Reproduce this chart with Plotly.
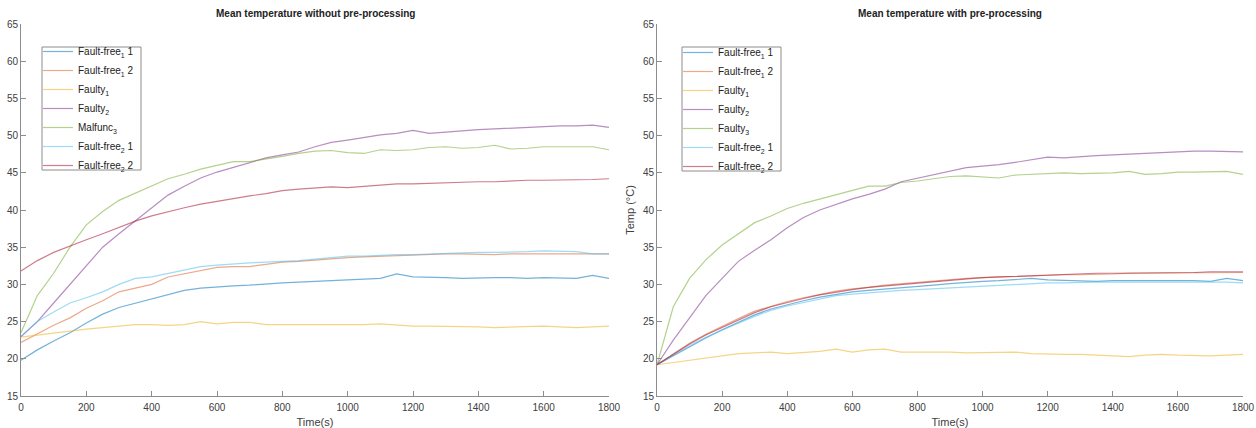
import plotly.graph_objects as go

# ---------------- data ----------------
time_s = [0, 50, 100, 150, 200, 250, 300, 350, 400, 450, 500, 550, 600, 650, 700, 750, 800, 850, 900,
          950, 1000, 1050, 1100, 1150, 1200, 1250, 1300, 1350, 1400, 1450, 1500, 1550, 1600, 1650,
          1700, 1750, 1800]

# Left: without pre-processing
raw_ff1_1 = [19.8, 21.2, 22.4, 23.5, 24.8, 26.0, 26.9, 27.5, 28.1, 28.6, 29.2, 29.5, 29.6, 29.8, 29.9,
             30.1, 30.2, 30.3, 30.4, 30.6, 30.7, 30.7, 30.8, 31.4, 31.0, 31.0, 30.9, 30.8, 30.9, 30.9,
             30.9, 30.8, 30.9, 30.8, 30.8, 31.2, 30.8]
raw_ff1_2 = [22.2, 23.4, 24.5, 25.5, 26.8, 27.8, 29.0, 29.5, 30.0, 31.0, 31.4, 31.8, 32.3, 32.4, 32.4,
             32.7, 33.0, 33.1, 33.3, 33.5, 33.6, 33.7, 33.8, 33.9, 34.0, 34.0, 34.1, 34.1, 34.0, 34.0,
             34.1, 34.1, 34.0, 34.0, 34.1, 34.1, 34.1]
raw_faulty1 = [22.9, 23.2, 23.4, 23.7, 24.0, 24.2, 24.4, 24.6, 24.6, 24.5, 24.6, 25.0, 24.7, 24.9, 24.9,
               24.6, 24.6, 24.6, 24.5, 24.6, 24.6, 24.6, 24.7, 24.5, 24.4, 24.4, 24.4, 24.3, 24.3, 24.2,
               24.3, 24.4, 24.4, 24.3, 24.2, 24.3, 24.4]
raw_faulty2 = [23.0, 25.0, 27.5, 30.0, 32.5, 35.0, 36.8, 38.5, 40.3, 42.0, 43.2, 44.3, 45.1, 45.7, 46.3,
               47.0, 47.4, 47.8, 48.5, 49.1, 49.4, 49.8, 50.1, 50.3, 50.7, 50.3, 50.5, 50.7, 50.8, 50.9,
               51.0, 51.2, 51.2, 51.3, 51.3, 51.4, 51.1]
raw_malfunc3 = [23.5, 28.5, 31.5, 35.0, 38.0, 39.8, 41.3, 42.3, 43.3, 44.2, 44.8, 45.5, 46.0, 46.5, 46.5,
                46.8, 47.2, 47.6, 47.9, 48.0, 47.7, 47.6, 48.1, 48.0, 48.1, 48.4, 48.5, 48.3, 48.4, 48.7,
                48.2, 48.3, 48.5, 48.5, 48.5, 48.5, 48.1]
raw_ff2_1 = [23.0, 25.0, 26.3, 27.5, 28.2, 29.0, 30.0, 30.8, 31.0, 31.5, 32.0, 32.4, 32.6, 32.8, 32.9,
             33.0, 33.1, 33.2, 33.4, 33.6, 33.8, 33.8, 33.9, 34.0, 34.0, 34.1, 34.2, 34.3, 34.3, 34.3,
             34.4, 34.4, 34.5, 34.5, 34.4, 34.1, 34.1]
raw_ff2_2 = [31.8, 33.2, 34.3, 35.2, 36.0, 36.8, 37.7, 38.5, 39.2, 39.8, 40.3, 40.8, 41.2, 41.6, 41.9,
             42.2, 42.6, 42.8, 43.0, 43.1, 43.0, 43.2, 43.4, 43.5, 43.5, 43.6, 43.6, 43.7, 43.8, 43.8,
             43.9, 44.0, 44.0, 44.0, 44.0, 44.1, 44.2]

# Right: with pre-processing
pre_ff1_1 = [19.2, 20.4, 21.7, 22.8, 23.9, 24.9, 25.9, 26.7, 27.3, 27.8, 28.3, 28.7, 29.0, 29.2, 29.4,
             29.6, 29.7, 29.9, 30.1, 30.3, 30.4, 30.5, 30.6, 30.8, 30.6, 30.5, 30.5, 30.4, 30.5, 30.5,
             30.5, 30.6, 30.6, 30.5, 30.4, 30.8, 30.5]
pre_ff1_2 = [19.2, 20.7, 22.1, 23.3, 24.4, 25.4, 26.4, 27.1, 27.7, 28.2, 28.7, 29.1, 29.4, 29.6, 29.9,
             30.1, 30.3, 30.5, 30.6, 30.8, 30.9, 31.0, 31.1, 31.1, 31.2, 31.3, 31.3, 31.4, 31.4, 31.5,
             31.5, 31.5, 31.5, 31.6, 31.6, 31.6, 31.6]
pre_faulty1 = [19.2, 19.5, 19.8, 20.2, 20.5, 20.7, 20.8, 20.9, 20.7, 20.8, 21.0, 21.3, 20.9, 21.2, 21.3,
               20.9, 20.9, 21.0, 20.9, 20.8, 20.8, 20.9, 20.9, 20.7, 20.6, 20.6, 20.6, 20.5, 20.5, 20.3,
               20.5, 20.6, 20.5, 20.4, 20.4, 20.5, 20.6]
pre_faulty2 = [19.2, 22.5, 25.5, 28.5, 30.8, 33.1, 34.6, 36.0, 37.6, 39.0, 40.0, 40.8, 41.5, 42.1, 42.8,
               43.8, 44.3, 44.8, 45.3, 45.7, 45.9, 46.1, 46.4, 46.7, 47.1, 47.0, 47.1, 47.3, 47.4, 47.5,
               47.6, 47.8, 47.8, 47.9, 47.9, 47.9, 47.8]
pre_faulty3 = [19.2, 27.0, 30.8, 33.3, 35.3, 36.8, 38.3, 39.2, 40.2, 40.9, 41.5, 42.0, 42.6, 43.2, 43.2,
               43.7, 43.9, 44.2, 44.5, 44.6, 44.4, 44.3, 44.7, 44.8, 44.9, 45.0, 44.9, 44.9, 45.0, 45.2,
               44.8, 44.9, 45.1, 45.1, 45.2, 45.2, 44.8]
pre_ff2_1 = [19.2, 20.5, 21.8, 22.9, 23.9, 24.8, 25.7, 26.5, 27.1, 27.6, 28.1, 28.5, 28.7, 28.9, 29.0,
             29.2, 29.3, 29.4, 29.5, 29.7, 29.8, 29.9, 30.0, 30.1, 30.2, 30.2, 30.3, 30.3, 30.3, 30.3,
             30.3, 30.3, 30.4, 30.3, 30.3, 30.3, 30.2]
pre_ff2_2 = [19.2, 20.6, 22.0, 23.2, 24.2, 25.2, 26.2, 27.0, 27.6, 28.1, 28.6, 29.0, 29.3, 29.6, 29.8,
             30.0, 30.2, 30.4, 30.6, 30.8, 30.9, 31.0, 31.1, 31.2, 31.3, 31.3, 31.4, 31.5, 31.5, 31.5,
             31.5, 31.6, 31.6, 31.6, 31.7, 31.7, 31.7]

left_names = ["Fault-free<sub>1</sub> 1", "Fault-free<sub>1</sub> 2", "Faulty<sub>1</sub>",
              "Faulty<sub>2</sub>", "Malfunc<sub>3</sub>", "Fault-free<sub>2</sub> 1",
              "Fault-free<sub>2</sub> 2"]
right_names = ["Fault-free<sub>1</sub> 1", "Fault-free<sub>1</sub> 2", "Faulty<sub>1</sub>",
               "Faulty<sub>2</sub>", "Faulty<sub>3</sub>", "Fault-free<sub>2</sub> 1",
               "Fault-free<sub>2</sub> 2"]
left_series = [raw_ff1_1, raw_ff1_2, raw_faulty1, raw_faulty2, raw_malfunc3, raw_ff2_1, raw_ff2_2]
right_series = [pre_ff1_1, pre_ff1_2, pre_faulty1, pre_faulty2, pre_faulty3, pre_ff2_1, pre_ff2_2]

x_ticks = [0, 200, 400, 600, 800, 1000, 1200, 1400, 1600, 1800]
y_ticks = [15, 20, 25, 30, 35, 40, 45, 50, 55, 60, 65]

# ---------------- styling ----------------
colors = ["rgba(0,114,189,0.55)", "rgba(217,83,25,0.5)", "rgba(237,177,32,0.55)",
          "rgba(126,47,142,0.55)", "rgba(119,172,48,0.55)", "rgba(77,190,238,0.55)",
          "rgba(162,20,47,0.55)"]
FONT = "Liberation Sans, Arial, sans-serif"
W, H = 1256, 428
ML, MR, MT, MB = 0, 0, 24, 32
PH = H - MT - MB


def px_x(px):
    return px / (W - ML - MR)


def px_y(py):
    return 1 - (py - MT) / PH


fig = go.Figure()
for i, (nm, ys) in enumerate(zip(left_names, left_series)):
    fig.add_trace(go.Scatter(x=time_s, y=ys, name=nm, mode="lines",
                             line=dict(color=colors[i], width=1.2),
                             xaxis="x", yaxis="y", legend="legend"))
for i, (nm, ys) in enumerate(zip(right_names, right_series)):
    fig.add_trace(go.Scatter(x=time_s, y=ys, name=nm, mode="lines",
                             line=dict(color=colors[i], width=1.2),
                             xaxis="x2", yaxis="y2", legend="legend2"))

axis_common = dict(showgrid=False, zeroline=False, showline=True, linecolor="#8c8c8c",
                   linewidth=1, ticks="inside", ticklen=5, tickcolor="#8c8c8c", automargin=False,
                   tickfont=dict(family=FONT, size=10, color="#404040"), mirror=False)

title_font = dict(family=FONT, size=11, color="#404040")
legend_common = dict(xanchor="left", yanchor="top", bgcolor="rgba(0,0,0,0)",
                     borderwidth=0, font=dict(family=FONT, size=10, color="#222222"),
                     itemwidth=30, tracegroupgap=0)

# legend frames (white boxes with grey border, drawn under the legend text)
legend_boxes = [(42, 47, 141, 170), (682, 47, 781, 171)]
shapes = [dict(type="rect", xref="paper", yref="paper", layer="above",
               x0=px_x(a), y0=px_y(d), x1=px_x(c), y1=px_y(b),
               fillcolor="white", line=dict(color="#8c8c8c", width=1))
          for (a, b, c, d) in legend_boxes]

fig.update_layout(
    width=W, height=H,
    margin=dict(l=ML, r=MR, t=MT, b=MB, autoexpand=False),
    paper_bgcolor="white", plot_bgcolor="white",
    xaxis=dict(domain=[px_x(21), px_x(609)], range=[0, 1800], tickvals=x_ticks,
               ticklabelstandoff=2,
               title=dict(text="Time(s)", font=title_font, standoff=6),
               anchor="y", **axis_common),
    yaxis=dict(domain=[0, 1], range=[15, 65], tickvals=y_ticks, anchor="x", **axis_common),
    xaxis2=dict(domain=[px_x(657), px_x(1243)], range=[0, 1800], tickvals=x_ticks,
                ticklabelstandoff=2,
                title=dict(text="Time(s)", font=title_font, standoff=6),
                anchor="y2", **axis_common),
    yaxis2=dict(domain=[0, 1], range=[15, 65], tickvals=y_ticks, anchor="x2",
                title=dict(text="Temp (°C)", font=title_font, standoff=6),
                **axis_common),
    legend=dict(x=px_x(38), y=px_y(37), **legend_common),
    legend2=dict(x=px_x(678), y=px_y(38), **legend_common),
    showlegend=True,
    shapes=shapes,
    annotations=[
        dict(text="<b>Mean temperature without pre-processing</b>", x=px_x((21 + 609) / 2), y=1,
             xref="paper", yref="paper", xanchor="center", yanchor="bottom", yshift=3,
             showarrow=False, font=dict(family=FONT, size=10, color="#222222")),
        dict(text="<b>Mean temperature with pre-processing</b>", x=px_x((657 + 1243) / 2), y=1,
             xref="paper", yref="paper", xanchor="center", yanchor="bottom", yshift=3,
             showarrow=False, font=dict(family=FONT, size=10, color="#222222")),
    ],
)

fig.write_html("out.html", config={"displayModeBar": False},
               post_script="document.body.style.margin='0';document.body.style.overflow='hidden';")
